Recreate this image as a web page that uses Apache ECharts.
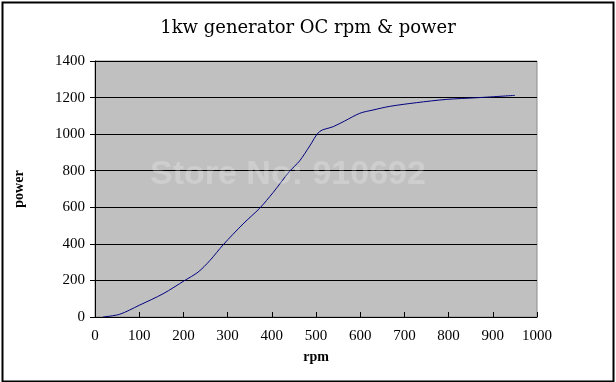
<!DOCTYPE html>
<html>
<head>
<meta charset="utf-8">
<script src="https://cdn.jsdelivr.net/npm/echarts@6/dist/echarts.min.js"></script>
<style>html,body{margin:0;padding:0;background:#fff;}#c{width:616px;height:382px;}</style>
</head>
<body>
<div id="c"></div>
<script>
const titleText = '1kw generator OC rpm & power';
const xName = 'rpm';
const yName = 'power';
const watermark = 'Store No: 910692';
const rpm =   [18, 56, 100, 154, 203, 233, 260, 290, 335, 373, 403, 440, 463, 486, 508, 539, 565, 599, 629, 667, 727, 795, 863, 950];
const power = [0, 15, 64, 127, 200, 245, 309, 395, 509, 596, 681, 796, 854, 936, 1014, 1041, 1072, 1114, 1132, 1152, 1172, 1190, 1199, 1212];
const xTicks = {min: 0, max: 1000, interval: 100};
const yTicks = {min: 0, max: 1400, interval: 200};

const chart = echarts.init(document.getElementById('c'), null, {renderer: 'canvas'});
const serif = '"Liberation Serif", "DejaVu Serif", serif';
const plain = v => String(v);
chart.setOption({
  animation: false,
  backgroundColor: '#fff',
  title: {
    text: titleText, left: 'center', top: 14,
    textStyle: {fontFamily: '"DejaVu Serif", serif', fontSize: 18, fontWeight: 'normal', color: '#000'}
  },
  grid: {left: 95, right: 79, top: 61, bottom: 65, show: true, backgroundColor: '#c0c0c0', borderColor: '#8c8c8c', borderWidth: 1},
  xAxis: {
    type: 'value', min: xTicks.min, max: xTicks.max, interval: xTicks.interval,
    name: xName, nameLocation: 'middle', nameGap: 33,
    nameTextStyle: {fontFamily: serif, fontSize: 14, fontWeight: 'bold', color: '#000'},
    axisLine: {show: true, onZero: false, lineStyle: {color: '#000', width: 1}},
    axisTick: {show: true, inside: true, length: 5, lineStyle: {color: '#000'}},
    axisLabel: {margin: 12, fontFamily: serif, fontSize: 15, color: '#000', formatter: plain},
    splitLine: {show: false}
  },
  yAxis: {
    type: 'value', min: yTicks.min, max: yTicks.max, interval: yTicks.interval,
    name: yName, nameLocation: 'middle', nameGap: 69, nameRotate: 90,
    nameTextStyle: {fontFamily: serif, fontSize: 14, fontWeight: 'bold', color: '#000'},
    axisLine: {show: true, lineStyle: {color: '#000', width: 1}},
    axisTick: {show: true, inside: false, length: 5, lineStyle: {color: '#000'}},
    axisLabel: {margin: 10, fontFamily: serif, fontSize: 15, color: '#000', formatter: plain},
    splitLine: {show: true, lineStyle: {color: '#000', width: 1}}
  },
  series: [{
    type: 'line',
    data: rpm.map((r, i) => [r, power[i]]),
    showSymbol: false,
    smooth: 0.3,
    lineStyle: {color: '#000080', width: 1},
    z: 3
  }],
  graphic: [
    {type: 'rect', left: 0, top: 0, shape: {x: 1, y: 1, width: 611, height: 379}, style: {fill: 'none', stroke: '#000', lineWidth: 2}, silent: true},
    {type: 'text', left: 150, top: 158, z: 100,
     style: {text: watermark, font: 'bold 34px "Liberation Sans", Arial, sans-serif', fill: 'rgba(255,255,255,0.22)'}, silent: true}
  ]
});
</script>
</body>
</html>
